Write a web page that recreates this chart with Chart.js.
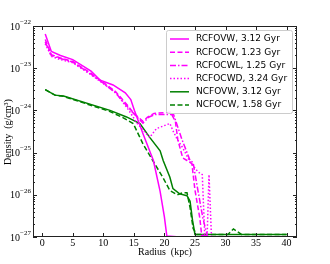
<!DOCTYPE html>
<html>
<head>
<meta charset="utf-8">
<script src="https://cdn.jsdelivr.net/npm/chart.js@4/dist/chart.umd.min.js"></script>
<style>
  body { margin: 0; background: #fff; }
  #myChart { display: block; }
</style>
</head>
<body>
<canvas id="myChart" width="330" height="264"></canvas>
<script>
// radius (kpc) and density (g/cm^3), one pair per run
var rcfovwR = [0.5, 1.5, 3, 5, 8, 9.5, 11.6, 13.6, 14.5, 15.1, 16.5, 18.2, 19.3, 20.0, 20.4, 22, 25];
var rcfovwD = [6.5e-23, 2.5e-23, 2.0e-23, 1.6e-23, 8.5e-24, 5.2e-24, 4.0e-24, 2.6e-24, 1.8e-24, 1.0e-24, 2.8e-25, 6.5e-26, 1.2e-26, 3e-27, 1.05e-27, 1.02e-27, 1.02e-27];

var rcfocwR = [0.5, 1.5, 3, 5, 8, 10, 12, 14, 15, 16.5, 17.2, 18.3, 21, 21.8, 22.2, 23, 23.7, 24.5, 25, 25.8, 26.1, 27];
var rcfocwD = [4.8e-23, 2.1e-23, 1.75e-23, 1.45e-23, 7.5e-24, 4.6e-24, 2.8e-24, 1.3e-24, 8.5e-25, 5.5e-25, 6.8e-25, 8.5e-25, 9e-25, 5.5e-25, 2e-25, 7.5e-26, 6.5e-26, 5.5e-26, 1.3e-26, 2.8e-27, 1.1e-27, 1.05e-27];

var rcfocwlR = [0.5, 1.5, 3, 5, 8, 10, 12, 14, 15.5, 16.5, 17.5, 18.5, 21.5, 22.9, 24.2, 24.7, 25.3, 26.3, 27];
var rcfocwlD = [4.2e-23, 2.0e-23, 1.7e-23, 1.4e-23, 7.2e-24, 4.4e-24, 2.6e-24, 1.2e-24, 7e-25, 5e-25, 7e-25, 8e-25, 8e-25, 2e-25, 6.5e-26, 5.8e-26, 1.8e-26, 2.8e-27, 1.1e-27];

var rcfocwdR = [0.5, 1.5, 3, 5, 8, 10, 12, 14.2, 15.5, 17.6, 18.7, 20.9, 21.4, 22, 23, 24.2, 25.5, 26.2, 26.6, 27.0, 27.3, 27.7];
var rcfocwdD = [3.8e-23, 1.9e-23, 1.6e-23, 1.35e-23, 7e-24, 4.3e-24, 2.7e-24, 1e-24, 5e-25, 2.3e-25, 3.7e-25, 4.9e-25, 3.3e-25, 2.2e-25, 1.3e-25, 6e-26, 3.5e-26, 3e-26, 1.1e-27, 1.1e-27, 3e-26, 1.05e-27];

var ncfovwR = [0.5, 2.1, 3.5, 11.1, 13.8, 16, 17.6, 19.3, 19.8, 20.9, 21.4, 22.5, 23.7, 24.2, 24.6, 25, 40];
var ncfovwD = [3.1e-24, 2.3e-24, 2.2e-24, 1e-24, 7e-25, 4.9e-25, 2.3e-25, 1.1e-25, 6.5e-26, 2.6e-26, 1.4e-26, 1.05e-26, 9.5e-27, 7e-27, 2.5e-27, 1.15e-27, 1.15e-27];

var ncfocwR = [0.5, 2.1, 3.5, 11, 13, 14.9, 16.5, 18.1, 19.8, 20.9, 22.1, 23.0, 23.7, 24.2, 24.7, 25.3, 30.4, 31.3, 32.6, 40];
var ncfocwD = [3.1e-24, 2.3e-24, 2.15e-24, 9.5e-25, 7e-25, 4.9e-25, 1.6e-25, 6.5e-26, 2.5e-26, 1.26e-26, 1e-26, 1.12e-26, 1.12e-26, 5e-27, 1.6e-27, 1.15e-27, 1.15e-27, 1.55e-27, 1.15e-27, 1.15e-27];

var labels = ['RCFOVW, 3.12 Gyr', 'RCFOCW, 1.23 Gyr', 'RCFOCWL, 1.25 Gyr', 'RCFOCWD, 3.24 Gyr', 'NCFOVW, 3.12 Gyr', 'NCFOCW, 1.58 Gyr'];
var xTicks = [0, 5, 10, 15, 20, 25, 30, 35, 40];
var yExps = [-22, -23, -24, -25, -26, -27];

var MAG = '#ff00ff', GRN = '#008000';
var DASH = [5, 2.5], DASHDOT = [6, 2, 1.5, 2], DOT = [1.5, 2];

function pts(rArr, dArr) {
  var out = [];
  for (var i = 0; i < rArr.length; i++) out.push({x: rArr[i], y: dArr[i]});
  return out;
}

function ds(label, rArr, dArr, color, dash) {
  return {
    label: label, data: pts(rArr, dArr),
    borderColor: color, backgroundColor: color,
    borderWidth: 1.5, borderDash: dash, pointRadius: 0, tension: 0, fill: false
  };
}

function line(ctx, x1, y1, x2, y2) {
  ctx.beginPath(); ctx.moveTo(x1, y1); ctx.lineTo(x2, y2); ctx.stroke();
}

// frame, inward ticks, tick labels, titles and the boxed legend
var decor = {
  id: 'decor',
  afterDraw: function(chart) {
    var ctx = chart.ctx, a = chart.chartArea, x = chart.scales.x, y = chart.scales.y;
    ctx.save();
    ctx.strokeStyle = '#222'; ctx.lineWidth = 1;
    ctx.strokeRect(a.left + 0.5, a.top + 0.5, a.right - a.left - 1, a.bottom - a.top - 1);

    xTicks.forEach(function(v) {
      var px = Math.round(x.getPixelForValue(v)) + 0.5;
      line(ctx, px, a.bottom, px, a.bottom - 4);
      line(ctx, px, a.top, px, a.top + 4);
    });
    yExps.forEach(function(e) {
      var py = Math.round(y.getPixelForValue(Math.pow(10, e))) + 0.5;
      line(ctx, a.left, py, a.left + 4, py);
      line(ctx, a.right, py, a.right - 4, py);
      if (e > -27) {
        for (var m = 2; m < 10; m++) {
          var my = Math.round(y.getPixelForValue(m * Math.pow(10, e - 1))) + 0.5;
          line(ctx, a.left, my, a.left + 2, my);
          line(ctx, a.right, my, a.right - 2, my);
        }
      }
    });

    ctx.fillStyle = '#000';
    ctx.font = '10px "Liberation Serif", serif';
    ctx.textAlign = 'center'; ctx.textBaseline = 'top';
    xTicks.forEach(function(v) {
      ctx.fillText(String(v), x.getPixelForValue(v), a.bottom + 1);
    });
    yExps.forEach(function(e) {
      var py = y.getPixelForValue(Math.pow(10, e));
      ctx.textAlign = 'right'; ctx.textBaseline = 'middle';
      var sup = '\u2212' + String(-e);
      ctx.font = '7px "Liberation Serif", serif';
      var sw = ctx.measureText(sup).width;
      ctx.fillText(sup, a.left - 2, py - 4);
      ctx.font = '10px "Liberation Serif", serif';
      ctx.fillText('10', a.left - 2 - sw, py + 1);
    });

    ctx.font = '10px "Liberation Serif", serif';
    ctx.textAlign = 'center'; ctx.textBaseline = 'middle';
    ctx.fillText('Radius  (kpc)', (a.left + a.right) / 2, 252);
    ctx.save();
    ctx.translate(8, 132); ctx.rotate(-Math.PI / 2);
    ctx.fillText('Density  (g/cm\u00b3)', 0, 0);
    ctx.restore();

    // legend box in the upper right corner
    var bx = 166, by = 30, bw = 126, bh = 83;
    ctx.fillStyle = 'rgba(255,255,255,0.85)';
    ctx.strokeStyle = '#ccc'; ctx.lineWidth = 1;
    ctx.beginPath();
    ctx.roundRect ? ctx.roundRect(bx + 0.5, by + 0.5, bw, bh, 2) : ctx.rect(bx + 0.5, by + 0.5, bw, bh);
    ctx.fill(); ctx.stroke();
    ctx.font = '9px "DejaVu Sans", sans-serif';
    ctx.textAlign = 'left'; ctx.textBaseline = 'middle';
    chart.data.datasets.forEach(function(d, i) {
      var ly = by + 9 + i * 13.2;
      ctx.strokeStyle = d.borderColor; ctx.lineWidth = 1.5;
      ctx.setLineDash(d.borderDash || []);
      line(ctx, 170, ly, 189, ly);
      ctx.setLineDash([]);
      ctx.fillStyle = '#000';
      ctx.fillText(d.label, 196, ly);
    });
    ctx.restore();
  }
};

var myChart = new Chart(document.getElementById('myChart').getContext('2d'), {
  type: 'line',
  data: {
    datasets: [
      ds(labels[0], rcfovwR, rcfovwD, MAG, []),
      ds(labels[1], rcfocwR, rcfocwD, MAG, DASH),
      ds(labels[2], rcfocwlR, rcfocwlD, MAG, DASHDOT),
      ds(labels[3], rcfocwdR, rcfocwdD, MAG, DOT),
      ds(labels[4], ncfovwR, ncfovwD, GRN, []),
      ds(labels[5], ncfocwR, ncfocwD, GRN, DASH)
    ]
  },
  options: {
    responsive: false,
    animation: false,
    layout: { padding: { left: 0, top: 26, right: 33, bottom: 0 } },
    plugins: { legend: { display: false }, tooltip: { enabled: false } },
    scales: {
      x: {
        type: 'linear', min: -1.5, max: 41.7,
        grid: { display: false }, border: { display: false },
        ticks: { display: false },
        afterFit: function(s) { s.height = 27; }
      },
      y: {
        type: 'logarithmic', min: 1e-27, max: 1e-22,
        grid: { display: false }, border: { display: false },
        ticks: { display: false },
        afterFit: function(s) { s.width = 33; }
      }
    }
  },
  plugins: [decor]
});
</script>
</body>
</html>
